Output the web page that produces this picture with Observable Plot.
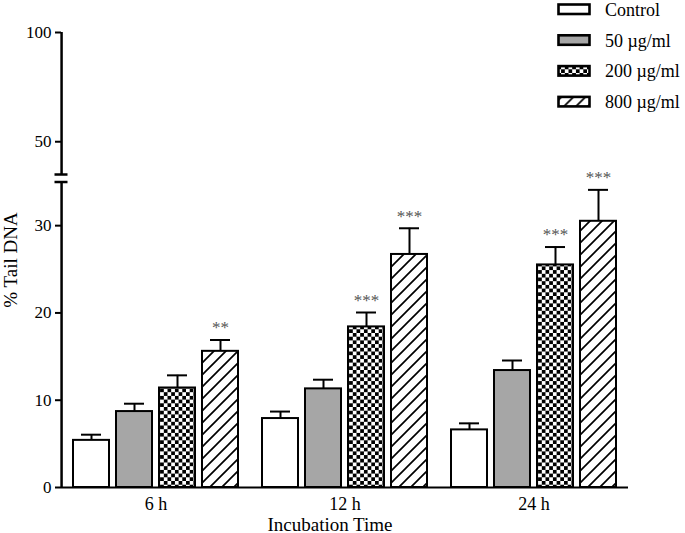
<!DOCTYPE html>
<html>
<head>
<meta charset="utf-8">
<script src="https://cdn.jsdelivr.net/npm/d3@7"></script>
<script src="https://cdn.jsdelivr.net/npm/@observablehq/plot@0.6"></script>
<style>
  body { margin: 0; background: #fff; }
  #wrap { position: relative; width: 685px; height: 533px; font-family: "Liberation Serif", "Times New Roman", serif; }
  #overlay { position: absolute; left: 0; top: 0; pointer-events: none; }
  #chart svg text { font-family: "Liberation Serif", "Times New Roman", serif !important; }
  #chart [aria-label="y-axis tick"] { stroke-width: 2; }
  #chart [aria-label="y-axis tick label"], #chart [aria-label="y-axis tick label"] text { font-size: 17px !important; }
  #chart [aria-label="y-axis label"], #chart [aria-label="y-axis label"] text { font-size: 19px !important; }
  #chart [aria-label="fx-axis tick label"], #chart [aria-label="fx-axis tick label"] text { font-size: 18px !important; }
</style>
</head>
<body>
<div id="wrap">
  <div id="chart"></div>
  <svg id="overlay" width="685" height="533"></svg>
</div>
<script>
// ---- data ----
const times = ["6 h", "12 h", "24 h"];
const doses = ["Control", "50 µg/ml", "200 µg/ml", "800 µg/ml"];
const mean6h  = [5.4, 8.7, 11.4, 15.6];
const sem6h   = [0.65, 0.9, 1.45, 1.3];
const mean12h = [7.9, 11.3, 18.4, 26.7];
const sem12h  = [0.8, 1.05, 1.65, 3.0];
const mean24h = [6.6, 13.4, 25.5, 30.5];
const sem24h  = [0.75, 1.15, 2.05, 3.6];
const stars6h  = ["", "", "", "**"];
const stars12h = ["", "", "***", "***"];
const stars24h = ["", "", "***", "***"];
const yTicks = [0, 10, 20, 30, 50, 100];
const yBreak = [35, 100];          // lower segment ends / upper segment ends
const yLabel = "% Tail DNA";
const xLabel = "Incubation Time";

// ---- broken-axis mapping: lower segment 0–35 full scale, upper 35–100 compressed ----
const upperScale = 0.2503;   // upper segment units relative to lower
const breakGap = 0.86;       // gap between segments, in lower-segment units
const brk = v => v <= yBreak[0] ? v : yBreak[0] + breakGap + (v - yBreak[0]) * upperScale;
const upperStart = yBreak[0] + 1e-6;

// ---- build table ----
const means = [mean6h, mean12h, mean24h];
const sems = [sem6h, sem12h, sem24h];
const stars = [stars6h, stars12h, stars24h];
const rows = [];
times.forEach((t, i) => doses.forEach((d, j) => rows.push({
  time: t, dose: d, mean: brk(means[i][j]), upper: brk(means[i][j] + sems[i][j]), star: stars[i][j]
})));
const tickLabel = new Map(yTicks.map(t => [brk(t), String(t)]));
const axisSegments = [
  { time: times[0], dose: doses[0], lo: 0, hi: brk(yBreak[0]) },
  { time: times[0], dose: doses[0], lo: brk(upperStart), hi: brk(yBreak[1]) }
];

// ---- styles ----
const fills = ["#ffffff", "#a6a6a6", "url(#checker)", "url(#hatch)"];
const serif = '"Liberation Serif","Times New Roman",serif';

// ---- overlay: pattern defs, legend, x-axis title ----
const ov = d3.select("#overlay");
ov.append("defs").html(`
  <pattern id="checker" patternUnits="userSpaceOnUse" width="7.4" height="7.4">
    <rect width="7.4" height="7.4" fill="#fff"/>
    <rect width="3.7" height="3.7" fill="#000"/>
    <rect x="3.7" y="3.7" width="3.7" height="3.7" fill="#000"/>
  </pattern>
  <pattern id="hatch" patternUnits="userSpaceOnUse" width="12" height="12">
    <rect width="12" height="12" fill="#fff"/>
    <path d="M-3,3 L3,-3 M0,12 L12,0 M9,15 L15,9" stroke="#000" stroke-width="1.7"/>
  </pattern>`);
const leg = ov.append("g").attr("transform", "translate(550,0)");
doses.forEach((d, j) => {
  const g = leg.append("g").attr("transform", `translate(0,${4 + j * 30.8})`);
  g.append("rect").attr("x", 8.5).attr("y", 0.5).attr("width", 31).attr("height", 9.5)
    .attr("fill", fills[j]).attr("stroke", "#000").attr("stroke-width", 2.6);
  g.append("text").attr("x", 55).attr("y", 5.5).attr("dy", "0.35em")
    .attr("font-size", 18).attr("font-family", serif)
    .text(d);
});
ov.append("text").attr("x", 330).attr("y", 531).attr("text-anchor", "middle")
  .attr("font-size", 19).attr("font-family", serif).text(xLabel);

// ---- chart layout ----
const marginLeft = 60, marginRight = 56, width = 685;
const fxBand = (width - marginRight - marginLeft) / times.length;
const xPadInner = 0.157, xPadOuter = 0.27;
const xs = d3.scaleBand(doses, [0, fxBand]).paddingInner(xPadInner).paddingOuter(xPadOuter);
const axisDx = -(xs(doses[0]) + xs.bandwidth() / 2);   // from first bar's centre to facet's left edge

const plot = Plot.plot({
  width,
  height: 533,
  marginLeft,
  marginRight,
  marginTop: 32,
  marginBottom: 46,
  style: { fontFamily: serif, fontSize: "16px", color: "#000", background: "#fff", overflow: "visible" },
  fx: { domain: times, padding: 0, tickSize: 0, tickPadding: 10, label: null },
  x: { domain: doses, paddingInner: xPadInner, paddingOuter: xPadOuter, axis: null },
  y: { domain: [0, brk(yBreak[1])], axis: null },
  color: { domain: doses, range: fills },
  marks: [
    Plot.barY(rows, { fx: "time", x: "dose", y1: 0, y2: "mean", fill: "dose", stroke: "#000", strokeWidth: 2 }),
    Plot.ruleX(rows, { fx: "time", x: "dose", y1: "mean", y2: "upper", stroke: "#000", strokeWidth: 2 }),
    Plot.tickY(rows, { fx: "time", x: "dose", y: "upper", stroke: "#000", strokeWidth: 2, insetLeft: 8, insetRight: 8 }),
    Plot.text(rows.filter(d => d.star), { fx: "time", x: "dose", y: "upper", text: "star", dy: -12, fontSize: 17, fill: "#555" }),
    // x baseline (facets are contiguous, so the segments join up)
    Plot.ruleY([0], { stroke: "#000", strokeWidth: 2 }),
    // broken y-axis line, drawn in the first facet only, at its left edge
    Plot.ruleX(axisSegments, { fx: "time", x: "dose", y1: "lo", y2: "hi", stroke: "#000", strokeWidth: 2.5, dx: axisDx }),
    // y axis ticks and labels
    Plot.axisY(yTicks.map(brk), { tickSize: 6, tickPadding: 4, tickFormat: v => tickLabel.get(v) ?? "",
      fontSize: 17, label: yLabel, labelAnchor: "center", labelArrow: "none", labelOffset: 58 }),
    // break marks
    Plot.axisY([brk(yBreak[0]), brk(upperStart)], { tickSize: 13, dx: 6.5, tickFormat: () => "", strokeWidth: 2.5, label: null })
  ]
});
document.getElementById("chart").appendChild(plot);
</script>
</body>
</html>
